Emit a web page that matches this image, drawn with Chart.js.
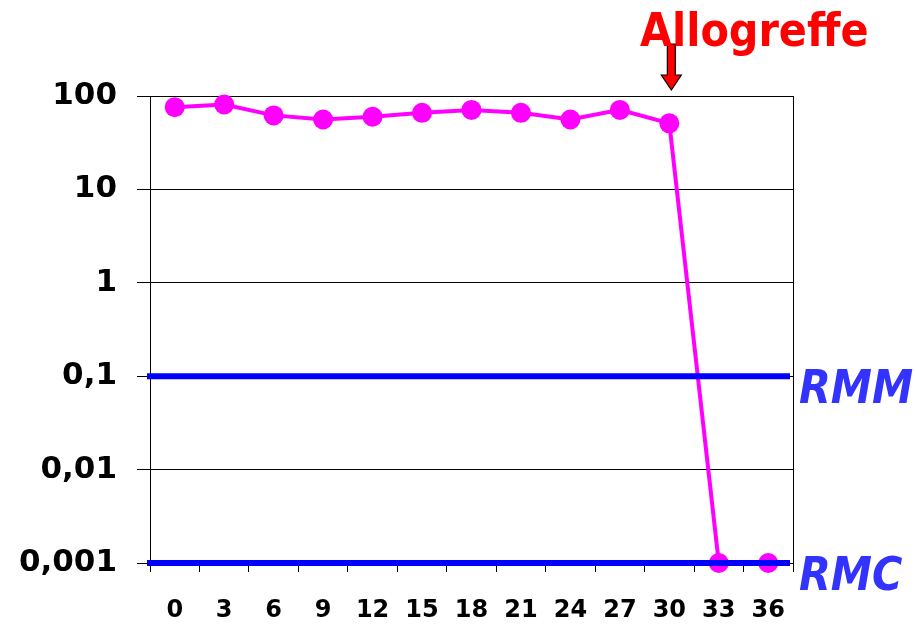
<!DOCTYPE html>
<html>
<head>
<meta charset="utf-8">
<script src="https://cdn.jsdelivr.net/npm/chart.js@4/dist/chart.umd.min.js"></script>
<style>
  html, body { margin: 0; padding: 0; background: #fff; }
  canvas { display: block; }
</style>
</head>
<body>
<canvas id="c" width="915" height="627"></canvas>
<script>
// Months after diagnosis
const months = ['0', '3', '6', '9', '12', '15', '18', '21', '24', '27', '30', '33', '36'];
// Residual disease level (log scale)
const level = [76, 81, 62, 56, 60, 66, 71, 66, 56, 71, 51, 0.001, 0.001];
// Log-scale decades shown on the axis
const decades = [0.001, 0.01, 0.1, 1, 10, 100];
// Response thresholds
const thresholdNames = ['RMM', 'RMC'];
const thresholdValues = [0.1, 0.001];
// Transplant marker
const eventLabel = 'Allogreffe';
const eventMonth = '30';

const comma = v => String(v).replace('.', ',');

const overlay = {
  id: 'overlay',
  afterDatasetsDraw(chart) {
    const { ctx, chartArea: a, scales } = chart;
    const y = scales.y, x = scales.x;
    ctx.save();
    // right frame
    ctx.strokeStyle = '#000';
    ctx.lineWidth = 1;
    ctx.beginPath();
    ctx.moveTo(a.right + 0.5, a.top);
    ctx.lineTo(a.right + 0.5, a.bottom);
    ctx.stroke();
    // left axis runs down past the bottom ticks
    ctx.beginPath();
    ctx.moveTo(a.left + 0.5, a.bottom);
    ctx.lineTo(a.left + 0.5, a.bottom + 9);
    ctx.stroke();
    // threshold bars and their labels
    thresholdValues.forEach((v, i) => {
      const py = y.getPixelForValue(v);
      ctx.strokeStyle = '#0000FF';
      ctx.lineWidth = 6;
      ctx.beginPath();
      ctx.moveTo(a.left - 3, py);
      ctx.lineTo(a.right - 3, py);
      ctx.stroke();
      ctx.fillStyle = '#3333FF';
      ctx.font = 'italic bold 46px "DejaVu Sans Condensed", "DejaVu Sans", sans-serif';
      ctx.textAlign = 'left';
      ctx.textBaseline = 'middle';
      ctx.fillText(thresholdNames[i], a.right + 6, py + 15);
    });
    // transplant arrow and caption
    const ax = x.getPixelForValue(months.indexOf(eventMonth)) + 2;
    const tip = a.top - 6;
    ctx.fillStyle = '#FF0000';
    ctx.strokeStyle = '#000';
    ctx.lineWidth = 1.2;
    ctx.beginPath();
    ctx.moveTo(ax - 4, 44);
    ctx.lineTo(ax + 4, 44);
    ctx.lineTo(ax + 4, tip - 15);
    ctx.lineTo(ax + 10, tip - 15);
    ctx.lineTo(ax, tip);
    ctx.lineTo(ax - 10, tip - 15);
    ctx.lineTo(ax - 4, tip - 15);
    ctx.closePath();
    ctx.fill();
    ctx.stroke();
    ctx.fillStyle = '#FF0000';
    ctx.font = 'bold 46px "DejaVu Sans Condensed", "DejaVu Sans", sans-serif';
    ctx.textAlign = 'left';
    ctx.textBaseline = 'alphabetic';
    ctx.fillText(eventLabel, 640, 46);
    ctx.restore();
  }
};

new Chart(document.getElementById('c'), {
  type: 'line',
  data: {
    labels: months,
    datasets: [{
      data: level,
      borderColor: '#FF00FF',
      backgroundColor: '#FF00FF',
      borderWidth: 4,
      pointRadius: 10,
      pointHoverRadius: 10,
      pointBorderWidth: 0,
      tension: 0,
      clip: false
    }]
  },
  options: {
    responsive: false,
    devicePixelRatio: 1,
    animation: false,
    events: [],
    layout: { padding: { top: 96, right: 122, left: 0, bottom: 0 } },
    plugins: { legend: { display: false }, tooltip: { enabled: false } },
    scales: {
      x: {
        type: 'category',
        offset: true,
        afterFit(s) { s.height = 64; },
        grid: {
          offset: true,
          drawOnChartArea: false,
          color: '#000',
          tickLength: 9,
          tickWidth: 1
        },
        border: { color: '#000', width: 1 },
        ticks: {
          color: '#000',
          padding: 24,
          maxRotation: 0,
          autoSkip: false,
          font: { family: '"DejaVu Sans", sans-serif', size: 24, weight: 'bold' }
        }
      },
      y: {
        type: 'logarithmic',
        min: 0.001,
        max: 100,
        afterFit(s) { s.width = 150; },
        afterBuildTicks(s) { s.ticks = decades.map(v => ({ value: v })); },
        grid: {
          color: '#000',
          lineWidth: 1,
          tickLength: 13
        },
        border: { color: '#000', width: 1 },
        ticks: {
          color: '#000',
          padding: 20,
          autoSkip: false,
          callback: v => comma(v),
          font: { family: '"DejaVu Sans", sans-serif', size: 31, weight: 'bold' }
        }
      }
    }
  },
  plugins: [overlay]
});
</script>
</body>
</html>
